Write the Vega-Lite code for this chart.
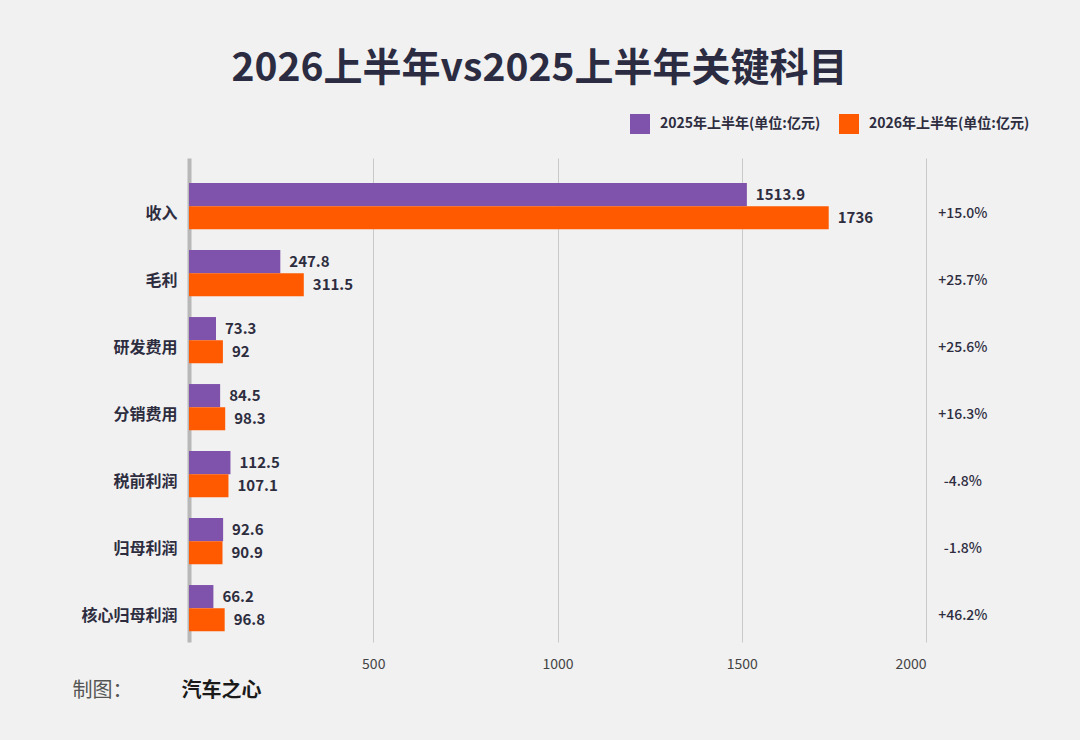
{
  "$schema": "https://vega.github.io/schema/vega-lite/v6.json",
  "autosize": {"type": "none"},
  "width": 737,
  "height": 484,
  "padding": {"left": 189, "top": 158, "right": 154, "bottom": 98},
  "background": "#f1f1f1",
  "title": {
    "text": "2026上半年vs2025上半年关键科目",
    "fontSize": 39,
    "fontWeight": "bold",
    "color": "#2b2c42",
    "font": "Noto Sans CJK SC",
    "anchor": "middle",
    "dx": -18,
    "offset": 25
  },
  "datasets": {
    "bars": [
      {"item": "收入", "period": "2025年上半年", "value": 1513.9},
      {"item": "收入", "period": "2026年上半年", "value": 1736},
      {"item": "毛利", "period": "2025年上半年", "value": 247.8},
      {"item": "毛利", "period": "2026年上半年", "value": 311.5},
      {"item": "研发费用", "period": "2025年上半年", "value": 73.3},
      {"item": "研发费用", "period": "2026年上半年", "value": 92},
      {"item": "分销费用", "period": "2025年上半年", "value": 84.5},
      {"item": "分销费用", "period": "2026年上半年", "value": 98.3},
      {"item": "税前利润", "period": "2025年上半年", "value": 112.5},
      {"item": "税前利润", "period": "2026年上半年", "value": 107.1},
      {"item": "归母利润", "period": "2025年上半年", "value": 92.6},
      {"item": "归母利润", "period": "2026年上半年", "value": 90.9},
      {"item": "核心归母利润", "period": "2025年上半年", "value": 66.2},
      {"item": "核心归母利润", "period": "2026年上半年", "value": 96.8}
    ],
    "changes": [
      {"item": "收入", "change": "+15.0%"},
      {"item": "毛利", "change": "+25.7%"},
      {"item": "研发费用", "change": "+25.6%"},
      {"item": "分销费用", "change": "+16.3%"},
      {"item": "税前利润", "change": "-4.8%"},
      {"item": "归母利润", "change": "-1.8%"},
      {"item": "核心归母利润", "change": "+46.2%"}
    ]
  },
  "encoding": {
    "y": {
      "field": "item",
      "type": "nominal",
      "sort": ["收入", "毛利", "研发费用", "分销费用", "税前利润", "归母利润", "核心归母利润"],
      "scale": {"paddingInner": 0.31, "paddingOuter": 0.267, "align": 0.7},
      "axis": {
        "title": "汽车之心",
        "titleAngle": 0,
        "titleX": -8,
        "titleY": 532,
        "titleAlign": "left",
        "titleBaseline": "middle",
        "titleFontSize": 20,
        "titleFontWeight": "bold",
        "titleColor": "#1a1a1a",
        "titleFont": "Noto Sans CJK SC",
        "domain": true,
        "domainColor": "#b8b8b8",
        "domainWidth": 4,
        "ticks": false,
        "labelPadding": 12,
        "labelOffset": 8,
        "labelFontSize": 16,
        "labelFontWeight": "bold",
        "labelColor": "#2d2d3f",
        "labelFont": "Noto Sans CJK SC"
      }
    }
  },
  "layer": [
    {
      "mark": {"type": "bar"},
      "encoding": {
        "x": {
          "field": "value",
          "type": "quantitative",
          "scale": {"domain": [0, 2000], "nice": false},
          "axis": {
            "values": [500, 1000, 1500, 2000],
            "format": "d",
            "grid": true,
            "gridColor": "#c9c9c9",
            "gridWidth": 1,
            "domain": false,
            "ticks": false,
            "labelPadding": 15,
            "labelFontSize": 14,
            "labelColor": "#444444",
            "labelFont": "Noto Sans CJK SC",
            "title": "制图：",
            "titleX": -117,
            "titleY": 48,
            "titleAnchor": "start",
            "titleAlign": "left",
            "titleBaseline": "middle",
            "titleFontSize": 20,
            "titleFontWeight": "normal",
            "titleColor": "#555555",
            "titleFont": "Noto Sans CJK SC"
          }
        },
        "yOffset": {
          "field": "period",
          "type": "nominal",
          "scale": {"paddingInner": 0, "paddingOuter": 0}
        },
        "color": {
          "field": "period",
          "type": "nominal",
          "scale": {"domain": ["2025年上半年", "2026年上半年"], "range": ["#7f52ab", "#ff5a00"]},
          "legend": {
            "title": null,
            "orient": "none",
            "direction": "horizontal",
            "legendX": 441,
            "legendY": -44,
            "symbolType": "square",
            "symbolSize": 400,
            "symbolStrokeWidth": 0,
            "symbolOpacity": 1,
            "labelExpr": "datum.label + '(单位:亿元)'",
            "labelFontSize": 14,
            "labelLimit": 300,
            "labelFontWeight": "bold",
            "labelColor": "#2d2d3f",
            "labelFont": "Noto Sans CJK SC",
            "labelOffset": 10,
            "columnPadding": 18
          }
        }
      },
      "data": {"name": "bars"}
    },
    {
      "data": {"name": "bars"},
      "mark": {"type": "text", "align": "left", "baseline": "middle", "dx": 9, "fontSize": 15, "fontWeight": "bold", "color": "#2d2d3f", "font": "Noto Sans CJK SC"},
      "encoding": {
        "x": {"field": "value", "type": "quantitative"},
        "yOffset": {"field": "period", "type": "nominal"},
        "text": {"field": "value", "type": "quantitative", "format": ".1~f"}
      }
    },
    {
      "data": {"name": "changes"},
      "mark": {"type": "text", "align": "center", "baseline": "middle", "dy": 8, "fontSize": 14, "fontWeight": 500, "color": "#2d2d3f", "font": "Noto Sans CJK SC"},
      "encoding": {
        "x": {"datum": 2100},
        "text": {"field": "change", "type": "nominal"}
      }
    }
  ],
  "config": {
    "view": {"stroke": null},
    "font": "Noto Sans CJK SC"
  }
}
